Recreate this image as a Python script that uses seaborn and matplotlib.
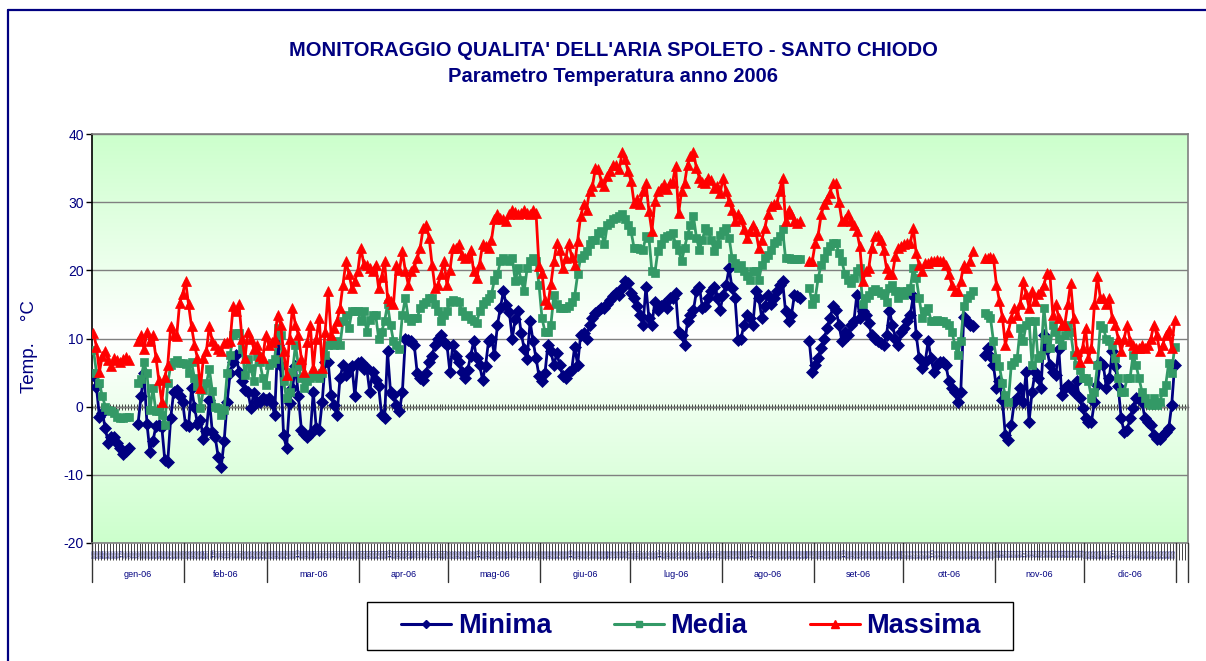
import numpy as np
import pandas as pd
import matplotlib
matplotlib.use("Agg")
import matplotlib.pyplot as plt
import matplotlib.transforms as mtransforms
from matplotlib.lines import Line2D
from matplotlib.patches import Rectangle
from matplotlib.colors import LinearSegmentedColormap
import seaborn as sns

nan = np.nan

# ---------------- data ----------------
month_labels = ["gen-06", "feb-06", "mar-06", "apr-06", "mag-06", "giu-06",
                "lug-06", "ago-06", "set-06", "ott-06", "nov-06", "dic-06"]
month_days = [31, 28, 31, 30, 31, 30, 31, 31, 30, 31, 30, 31]
series_names = ["Minima", "Media", "Massima"]

minima = [
    # gen
    4.7, 2.9, -1.5, -1.0, -3.2, -5.4, -4.4, -4.4, -5.4, -6.0,
    -6.9, -6.5, -6.1, nan, nan, -2.5, 1.5, 5.0, -2.5, -6.6,
    -5.1, -2.9, -2.7, -3.0, -7.8, -8.1, -1.7, 2.2, 2.5, 1.5, 0.7,
    # feb
    -2.7, -2.9, 2.7, 0.0, -2.5, -2.0, -4.7, -3.5, 1.0, -3.7,
    -4.5, -7.4, -8.8, -5.0, 0.7, 4.9, 6.6, 7.6, 5.1, 3.7,
    2.5, 2.2, -0.2, 2.0, 0.7, 0.7, 1.2, 1.0,
    # mar
    1.2, 0.5, -1.2, 9.1, 6.0, -4.2, -6.1, 0.5, 2.7, 6.0,
    1.5, -3.4, -4.0, -4.4, -4.0, 2.2, -3.2, -3.4, 0.7, 6.5,
    6.6, 1.7, 0.2, -1.2, 4.2, 6.1, 4.7, 5.5, 6.0, 1.5, 6.4,
    # apr
    6.6, 5.5, 5.6, 2.2, 5.1, 3.9, 3.0, -1.2, -1.7, 8.1,
    2.2, 1.7, 0.2, -0.7, 2.2, 10.0, 9.8, 9.6, 9.0, 4.9,
    4.2, 3.9, 5.0, 6.6, 7.5, 9.1, 10.0, 10.5, 9.5, 9.1,
    # mag
    5.1, 9.1, 7.5, 6.6, 5.1, 4.2, 5.4, 7.5, 9.6, 7.1,
    6.1, 3.9, 6.0, 9.6, 10.0, 7.6, 12.0, 14.5, 16.9, 14.9,
    13.9, 10.0, 12.9, 14.0, 10.8, 8.5, 7.0, 12.5, 9.6, 7.1, 4.5,
    # giu
    3.7, 4.9, 9.1, 8.1, 6.1, 7.8, 6.1, 4.5, 4.2, 5.1,
    5.4, 8.8, 6.1, 10.5, 10.8, 10.0, 12.0, 13.0, 13.7, 14.0,
    14.5, 14.5, 15.0, 15.7, 16.2, 16.7, 16.4, 17.4, 18.4, 18.1,
    # lug
    16.7, 15.9, 14.7, 13.5, 12.0, 17.6, 13.0, 12.0, 15.4, 14.2,
    14.8, 15.0, 14.5, 15.9, 15.9, 16.7, 11.0, 10.5, 9.1, 12.5,
    13.5, 14.2, 16.9, 17.6, 14.5, 14.7, 15.9, 16.9, 17.6, 15.9, 14.2,
    # ago
    16.4, 17.9, 20.3, 17.4, 15.9, 9.8, 10.0, 12.0, 13.5, 13.0,
    12.0, 16.9, 15.9, 13.0, 14.7, 16.4, 15.0, 15.9, 17.0, 17.9,
    18.4, 14.0, 12.5, 13.5, 16.4, 16.2, 16.0, nan, nan, 9.6, 5.1,
    # set
    6.1, 7.1, 8.6, 10.0, 11.5, 13.0, 14.7, 14.2, 12.0, 9.6,
    11.0, 10.5, 12.0, 12.5, 16.4, 13.0, 14.0, 13.5, 12.3, 10.5,
    10.0, 9.6, 9.4, 9.1, 10.5, 14.0, 12.0, 10.0, 9.1, 11.0,
    # ott
    11.5, 12.5, 13.5, 16.2, 10.5, 7.1, 5.6, 6.5, 9.6, 7.1,
    5.1, 6.1, 6.6, 6.6, 6.1, 3.7, 2.7, 2.2, 0.7, 2.2,
    13.2, 12.5, 12.0, 11.8, nan, nan, nan, 7.6, 8.6, 7.5, 6.1,
    # nov
    2.7, 3.7, 1.0, -4.2, -4.9, -2.7, 0.7, 1.2, 2.7, 0.7,
    5.1, -2.2, 2.2, 5.1, 4.2, 2.7, 10.5, 8.5, 6.1, 5.1,
    4.7, 8.5, 1.7, 2.7, 3.2, 2.7, 2.2, 3.7, 1.2, -0.2,
    # dic
    -1.7, -2.2, -2.2, 0.7, 3.2, 6.6, 6.1, 2.7, 4.2, 8.1,
    6.0, 3.0, -1.7, -3.7, -3.4, -1.7, -0.2, 1.2, 1.2, 0.7,
    -1.7, -2.2, -2.7, -4.2, -4.7, -4.7, -4.2, -3.7, -3.2, 0.2, 6.1,
]

media = [
    # gen
    8.3, 5.0, 3.4, 1.5, 0.0, -0.5, -0.7, -1.0, -1.5, -1.7,
    -1.7, -1.5, -1.5, nan, nan, 3.5, 4.0, 6.5, 4.9, -0.5,
    2.7, -0.7, -0.7, -1.2, -2.7, 3.4, 6.1, 6.6, 6.9, 6.4, 6.4,
    # feb
    6.2, 5.0, 6.5, 4.2, 3.0, -0.2, 2.5, 3.4, 5.5, 2.3,
    0.0, -0.2, -1.2, -0.5, 4.9, 7.6, 10.5, 10.8, 10.8, 8.5,
    4.7, 7.0, 5.6, 3.7, 7.5, 6.6, 4.2, 3.2,
    # mar
    6.1, 6.4, 7.0, 11.5, 10.5, 3.7, 1.2, 2.2, 5.1, 9.1,
    6.0, 4.2, 2.7, 3.7, 4.2, 4.7, 4.5, 4.2, 5.0, 7.6,
    9.1, 9.6, 9.1, 9.6, 9.1, 12.5, 13.5, 11.5, 14.0, 14.0, 14.0,
    # apr
    12.5, 14.0, 11.0, 12.7, 13.5, 13.5, 10.0, 11.0, 12.5, 15.0,
    12.0, 9.6, 9.1, 8.5, 13.5, 15.9, 13.0, 12.5, 13.0, 13.0,
    14.5, 15.0, 15.4, 15.9, 15.9, 15.0, 14.0, 12.5, 13.5, 14.0,
    # mag
    15.4, 15.6, 15.5, 15.4, 14.0, 13.3, 13.5, 12.9, 12.5, 12.3,
    14.0, 15.0, 15.5, 15.9, 16.5, 18.6, 19.4, 21.3, 21.8, 21.5,
    21.3, 21.8, 18.4, 20.3, 18.6, 16.9, 20.3, 21.3, 21.8, 21.3, 17.9,
    # giu
    13.0, 11.0, 11.0, 12.0, 16.4, 15.0, 14.5, 14.5, 14.5, 14.7,
    15.4, 16.2, 19.4, 21.8, 22.3, 22.8, 23.8, 24.5, 24.5, 25.5,
    25.7, 23.8, 26.7, 27.0, 27.5, 27.7, 28.0, 28.2, 27.5, 26.7,
    # lug
    25.7, 23.3, 23.3, 23.2, 23.0, 25.0, 24.8, 19.9, 19.6, 22.8,
    23.8, 24.8, 25.0, 25.2, 25.5, 23.8, 23.0, 21.3, 23.3, 25.2,
    26.7, 27.9, 24.8, 23.0, 24.5, 26.2, 25.7, 24.5, 22.8, 23.8, 25.2,
    # ago
    25.7, 26.2, 24.8, 21.8, 21.1, 20.3, 20.8, 19.9, 19.2, 18.6,
    19.9, 19.9, 18.6, 20.8, 21.8, 22.3, 23.0, 24.0, 24.3, 25.0,
    26.0, 21.8, 21.8, 21.7, 21.6, 21.6, 21.6, nan, nan, 17.4, 15.0,
    # set
    15.9, 18.9, 20.8, 21.8, 22.8, 23.5, 24.0, 24.0, 22.5, 21.3,
    19.4, 18.6, 18.1, 18.9, 19.9, 20.3, 15.0, 15.9, 16.4, 16.9,
    17.2, 16.9, 16.7, 16.4, 15.4, 17.4, 17.9, 17.0, 15.9, 16.9,
    # ott
    16.4, 16.9, 17.4, 20.3, 18.9, 15.9, 13.0, 14.0, 14.5, 12.5,
    12.5, 12.7, 12.5, 12.6, 12.3, 12.0, 11.0, 9.1, 7.6, 9.6,
    14.7, 15.9, 16.4, 16.9, nan, nan, nan, 13.7, 13.5, 13.0, 9.6,
    # nov
    7.1, 5.9, 3.5, 1.7, 0.7, 6.1, 6.5, 7.1, 11.5, 9.6,
    12.0, 12.5, 6.1, 12.5, 7.1, 7.6, 14.5, 10.0, 8.6, 12.0,
    11.0, 10.0, 9.1, 10.5, 12.0, 11.0, 7.6, 6.1, 5.4, 4.2,
    # dic
    4.2, 3.7, 1.2, 2.2, 6.1, 12.0, 11.5, 10.0, 9.6, 9.1,
    7.1, 4.2, 2.2, 2.2, 4.2, 4.2, 7.6, 6.1, 4.2, 2.2,
    1.2, 0.5, 0.2, 1.2, 0.2, 0.7, 2.2, 3.2, 6.4, 4.9, 8.8,
]

massima = [
    # gen
    10.8, 8.8, 5.1, 7.5, 8.1, 6.8, 6.0, 7.1, 6.9, 6.6,
    7.0, 7.3, 6.9, nan, nan, 9.6, 10.5, 8.5, 11.0, 9.6,
    10.5, 7.3, 3.9, 0.7, 4.4, 6.1, 11.8, 10.5, 10.3, 15.2, 16.5,
    # feb
    18.4, 15.0, 11.8, 9.1, 7.1, 2.7, 7.1, 8.1, 11.8, 9.6,
    9.1, 8.5, 8.1, 9.3, 9.5, 9.6, 14.7, 14.0, 15.0, 10.0,
    7.1, 11.0, 10.0, 8.5, 9.1, 7.5, 7.1, 10.5,
    # mar
    9.1, 9.5, 10.0, 13.5, 12.0, 8.1, 4.7, 10.0, 14.5, 12.0,
    10.5, 7.0, 5.1, 9.5, 12.0, 5.6, 10.0, 13.0, 5.6, 11.0,
    16.9, 10.5, 11.5, 12.5, 14.5, 17.9, 21.3, 19.5, 17.4, 18.5, 19.9,
    # apr
    23.3, 21.0, 20.8, 20.3, 19.9, 20.8, 17.4, 19.0, 21.3, 16.0,
    15.5, 15.0, 20.8, 20.0, 22.8, 19.9, 17.9, 19.9, 20.5, 21.8,
    23.3, 26.2, 26.7, 24.8, 20.8, 17.4, 17.9, 19.5, 21.3, 17.9,
    # mag
    20.0, 23.3, 23.3, 23.8, 22.3, 21.8, 22.0, 23.0, 19.9, 18.9,
    21.0, 23.8, 23.5, 23.3, 24.5, 27.5, 28.2, 27.7, 27.5, 27.2,
    28.2, 28.9, 28.5, 28.2, 28.4, 28.9, 28.4, 28.2, 28.9, 28.4, 20.6,
    # giu
    19.6, 15.7, 15.0, 18.0, 21.3, 24.0, 23.0, 20.3, 21.8, 24.0,
    22.0, 20.8, 24.3, 27.9, 29.7, 28.9, 31.6, 32.4, 35.0, 34.8,
    33.0, 32.4, 33.8, 34.5, 35.5, 35.5, 34.8, 37.3, 36.3, 34.5,
    # lug
    33.1, 29.9, 30.4, 29.7, 31.6, 32.8, 28.7, 25.7, 30.1, 31.6,
    32.1, 32.6, 32.0, 32.8, 33.0, 35.3, 28.4, 31.6, 32.8, 35.5,
    36.8, 37.3, 35.0, 33.6, 33.0, 32.8, 33.6, 33.3, 32.1, 32.4, 31.4,
    # ago
    33.6, 31.6, 30.1, 28.9, 27.2, 28.2, 27.5, 26.0, 24.8, 25.7,
    26.7, 25.7, 23.3, 24.5, 26.2, 28.2, 29.4, 29.7, 29.7, 31.6,
    33.6, 27.2, 28.9, 28.2, 27.2, 27.0, 27.2, nan, nan, 21.3, 21.3,
    # set
    24.0, 25.2, 28.2, 29.7, 30.4, 31.4, 32.8, 32.8, 30.0, 27.2,
    27.5, 28.2, 27.2, 26.7, 25.7, 23.5, 18.4, 19.9, 20.3, 23.3,
    25.0, 25.2, 24.5, 23.0, 20.3, 19.4, 19.5, 22.1, 23.3, 23.5,
    # ott
    23.8, 24.0, 24.0, 26.2, 22.5, 20.8, 19.9, 21.1, 21.1, 21.3,
    21.3, 21.5, 21.3, 21.3, 20.8, 19.4, 17.9, 16.9, 16.9, 18.5,
    20.8, 20.3, 21.3, 22.8, nan, nan, nan, 21.8, 21.8, 22.0, 21.8,
    # nov
    17.9, 15.5, 13.2, 9.1, 11.0, 13.0, 14.5, 13.5, 15.0, 18.4,
    16.5, 14.5, 16.9, 15.5, 16.5, 16.9, 17.9, 19.6, 19.4, 13.5,
    15.0, 13.0, 12.0, 12.0, 15.0, 18.1, 13.0, 8.1, 6.6, 8.6,
    # dic
    11.5, 7.1, 8.6, 15.0, 19.1, 15.9, 15.9, 15.0, 15.9, 13.0,
    12.0, 10.0, 8.1, 10.0, 12.0, 9.6, 9.1, 8.6, 8.6, 9.1,
    8.6, 9.0, 10.0, 12.0, 10.5, 8.1, 9.1, 10.5, 11.3, 8.6, 12.7,
]

y_ticks = [-20, -10, 0, 10, 20, 30, 40]

# ---------------- styling ----------------
sns.set_style("white")
plt.rcParams["font.family"] = ["Liberation Sans", "DejaVu Sans"]

NAVY = "#000080"
GREEN = "#339966"
RED = "#FF0000"
GRID = "#808080"

W, H = 1206, 661
fig = plt.figure(figsize=(W / 100, H / 100), dpi=100)
fig.patch.set_facecolor("white")

px0, px1, py0, py1 = 92, 1188, 134, 543
ax = fig.add_axes([px0 / W, 1 - py1 / H, (px1 - px0) / W, (py1 - py0) / H])

n_days = sum(month_days)
n_cats = 369
days = np.arange(1, n_days + 1)

# background gradient (green at top/bottom, white in the middle)
cmap = LinearSegmentedColormap.from_list("bg", ["#CCFFCC", "#FFFFFF"])
grad = 1 - np.abs(np.linspace(-1, 1, 256))[:, None]
ax.imshow(grad, extent=(0, 1, 0, 1), transform=ax.transAxes, aspect="auto",
          cmap=cmap, vmin=0, vmax=1, zorder=0, interpolation="bilinear")

# ---------------- series ----------------
frames = []
for name, vals in zip(series_names, [minima, media, massima]):
    d = pd.DataFrame({"giorno": days, "temp": np.array(vals, dtype=float), "serie": name})
    d["tratto"] = d["temp"].isna().cumsum()
    frames.append(d.dropna())
data = pd.concat(frames, ignore_index=True)

styles = {
    "Minima": dict(color=NAVY, marker="D", markersize=6.0),
    "Media": dict(color=GREEN, marker="s", markersize=5.6),
    "Massima": dict(color=RED, marker="^", markersize=7.4),
}
for z, name in enumerate(series_names):
    st = styles[name]
    sns.lineplot(data=data[data["serie"] == name], x="giorno", y="temp",
                 units="tratto", estimator=None, sort=True, ax=ax, legend=False,
                 color=st["color"], marker=st["marker"], markersize=st["markersize"],
                 markeredgecolor=st["color"], markerfacecolor=st["color"],
                 markeredgewidth=0.5, linewidth=2.0, zorder=3 + z)

# ---------------- axes ----------------
ax.set_xlim(0.5, n_cats + 0.5)
ax.set_ylim(-20, 40)
ax.set_yticks(y_ticks)
ax.set_yticklabels([str(t) for t in y_ticks], color=NAVY, fontsize=10)
ax.yaxis.grid(True, color=GRID, linewidth=1.0, zorder=1)
ax.set_axisbelow(True)
ax.tick_params(axis="y", left=True, direction="out", length=4, width=1,
               color="black", pad=2)

ax.set_xlabel("")
ax.set_ylabel("Temp.    °C", color=NAVY, fontsize=13.5)
ax.yaxis.set_label_coords(-0.049, 0.48)

# tiny per-day category labels + dense ticks (Excel style)
day_labels = []
for m, nd in enumerate(month_days):
    for dd in range(1, nd + 1):
        day_labels.append(f"{dd:02d}/{m + 1:02d}")
ax.set_xticks(days)
ax.set_xticklabels(day_labels, rotation=90, fontsize=2.6, color=NAVY)
ax.tick_params(axis="x", which="major", bottom=True, length=0, pad=4)
ax.set_xticks(np.arange(0.5, n_cats + 1, 1.0), minor=True)
ax.tick_params(axis="x", which="minor", bottom=True, direction="out", length=12.5,
               width=0.6, color="#222222")

for side in ["top", "right", "bottom"]:
    ax.spines[side].set_color(GRID)
    ax.spines[side].set_linewidth(1.2)
ax.spines["left"].set_color("black")
ax.spines["left"].set_linewidth(1.2)

# category axis crossing at 0
sec = ax.secondary_xaxis(20 / 60)
sec.set_xticks(np.arange(0.5, n_cats + 1, 1.0))
sec.tick_params(axis="x", bottom=True, direction="inout", length=4, width=0.5,
                color="black", labelbottom=False, labeltop=False)
for s in sec.spines.values():
    s.set_color("black")
    s.set_linewidth(1.0)

# month separators and labels
bounds = np.concatenate([[0.5], 0.5 + np.cumsum(month_days), [n_cats + 0.5]])
trans = mtransforms.blended_transform_factory(ax.transData, ax.transAxes)
for b in bounds:
    ax.plot([b, b], [0, -0.096], transform=trans, color="#333333", lw=1.0,
            clip_on=False, zorder=5)
for i, lab in enumerate(month_labels):
    mid = (bounds[i] + bounds[i + 1]) / 2
    ax.text(mid, -0.078, lab, transform=trans, ha="center", va="center",
            fontsize=6.5, color=NAVY)

# ---------------- titles ----------------
fig.text(613.5 / W, 1 - 50 / H, "MONITORAGGIO QUALITA' DELL'ARIA SPOLETO - SANTO CHIODO",
         ha="center", va="center", fontsize=14.5, fontweight="bold", color=NAVY)
fig.text(613 / W, 1 - 77 / H, "Parametro Temperatura anno 2006",
         ha="center", va="center", fontsize=14.5, fontweight="bold", color=NAVY)

# outer chart frame (navy)
fig.add_artist(Line2D([8 / W, 1.0], [1 - 10 / H, 1 - 10 / H], transform=fig.transFigure,
                      color=NAVY, lw=1.6))
fig.add_artist(Line2D([8 / W, 8 / W], [0.0, 1 - 10 / H], transform=fig.transFigure,
                      color=NAVY, lw=1.6))

# ---------------- legend ----------------
fig.add_artist(Rectangle((367 / W, 1 - 650 / H), (1013 - 367) / W, 48 / H,
                         transform=fig.transFigure, facecolor="white",
                         edgecolor="black", lw=1.0, zorder=1))
handles = [Line2D([], [], color=styles[n]["color"], marker=styles[n]["marker"],
                  markersize=styles[n]["markersize"] * 0.75, lw=2.2,
                  markeredgecolor=styles[n]["color"]) for n in series_names]
leg = fig.legend(handles, series_names, loc="center",
                 bbox_to_anchor=(691 / W, 1 - 626 / H), ncol=3, frameon=False,
                 prop=dict(family="Liberation Sans", weight="bold", size=19.5),
                 labelcolor=NAVY, handlelength=1.85, handletextpad=0.25,
                 columnspacing=2.3)
leg.set_zorder(2)

fig.savefig("out.png", dpi=100, facecolor="white")
